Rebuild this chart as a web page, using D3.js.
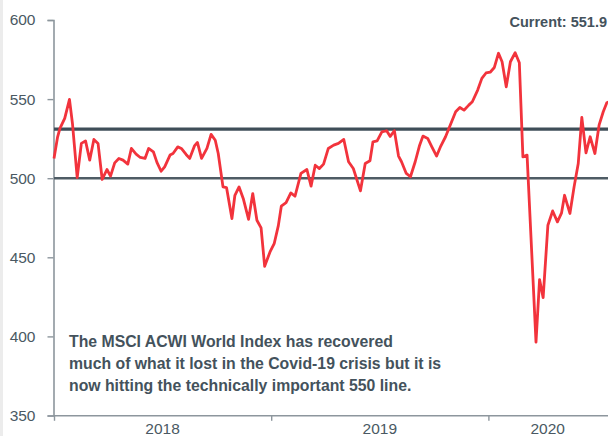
<!DOCTYPE html>
<html>
<head>
<meta charset="utf-8">
<script src="https://cdn.jsdelivr.net/npm/d3@7"></script>
<style>
  html, body { margin: 0; padding: 0; background: #fff; }
  svg { display: block; font-family: "Liberation Sans", Arial, Helvetica, sans-serif; }
</style>
</head>
<body>
<svg id="chart" width="608" height="436"></svg>
<script>
// ---- data ----
const dates = [
"2018-01-01","2018-01-07","2018-01-11","2018-01-19","2018-01-27","2018-02-01","2018-02-09","2018-02-16","2018-02-23","2018-03-02",
"2018-03-09","2018-03-16","2018-03-23","2018-03-31","2018-04-06","2018-04-13","2018-04-20","2018-04-27","2018-05-05","2018-05-11",
"2018-05-19","2018-05-26","2018-06-03","2018-06-09","2018-06-17","2018-06-23","2018-06-30","2018-07-06","2018-07-15","2018-07-20",
"2018-07-28","2018-08-03","2018-08-11","2018-08-17","2018-08-25","2018-08-30","2018-09-06","2018-09-15","2018-09-22","2018-09-29",
"2018-10-04","2018-10-12","2018-10-18","2018-10-27","2018-11-01","2018-11-08","2018-11-15","2018-11-24","2018-12-01","2018-12-08",
"2018-12-15","2018-12-21","2018-12-30","2019-01-06","2019-01-13","2019-01-18","2019-01-26","2019-02-03","2019-02-10","2019-02-20",
"2019-03-02","2019-03-09","2019-03-16","2019-03-23","2019-03-30","2019-04-07","2019-04-16","2019-04-24","2019-05-03","2019-05-11",
"2019-05-19","2019-05-31","2019-06-08","2019-06-16","2019-06-21","2019-06-28","2019-07-06","2019-07-14","2019-07-20","2019-07-27",
"2019-08-03","2019-08-08","2019-08-16","2019-08-23","2019-08-31","2019-09-07","2019-09-13","2019-09-21","2019-09-28","2019-10-06",
"2019-10-13","2019-10-21","2019-10-30","2019-11-07","2019-11-14","2019-11-21","2019-11-29","2019-12-05","2019-12-14","2019-12-21",
"2019-12-28","2020-01-04","2020-01-11","2020-01-18","2020-01-24","2020-01-31","2020-02-07","2020-02-15","2020-02-22","2020-02-28",
"2020-03-06","2020-03-21","2020-03-27","2020-04-02","2020-04-10","2020-04-18","2020-04-26","2020-05-03","2020-05-08","2020-05-17",
"2020-05-24","2020-05-31","2020-06-06","2020-06-13","2020-06-20","2020-06-28","2020-07-05","2020-07-12","2020-07-18","2020-07-23"
];
const values = [
512.5,526,531.5,537.8,549.8,534.6,500.4,522,523.6,511.4,
524.5,522,499.2,505.5,501.3,509.7,512.5,511.4,508.9,518.8,
515.2,513.1,512.5,518.8,516.7,510,504.4,507.2,514.6,515.6,
519.8,518.8,515,512.5,520.4,522.6,512.5,518.8,527.7,524,
515.6,494.5,494,474.5,489.2,494.5,487.2,474,490.3,473.4,
468.6,444.3,453.4,458.6,470,482.3,484.5,490.7,488.6,503,
505.5,495,508.2,506.1,508.9,518.8,520.9,522,524.5,510.4,
506.1,492,509.3,511,523,523.6,529.3,530,526.4,530,
514,510.4,503,500.9,510.4,520.3,526.6,525.1,519.8,514,
520.3,526.2,534.6,542,544.7,543,546.2,548.3,555.7,563.1,
566.5,567,570,579,573.6,557.8,573.6,579.3,573,513.5,
514.6,396.4,435.9,424.5,470.3,479.3,472.4,478.1,489.2,477.7,
494.5,509.3,538.4,516,526.2,515.6,533.5,542,547.7,548.5
];
const yTicks = [350, 400, 450, 500, 550, 600];
const yearTicks = ["2018-01-01", "2019-01-01", "2020-01-01"];
const yearLabels = ["2018", "2019", "2020"];
const levels = [531, 500];
const currentLabel = "Current: 551.9";
const noteLines = [
  "The MSCI ACWI World Index has recovered",
  "much of what it lost in the Covid-19 crisis but it is",
  "now hitting the technically important 550 line."
];

// ---- layout ----
const W = 608, H = 436;
const parse = d3.utcParse("%Y-%m-%d");
const xStart = parse("2018-01-01"), xEnd = parse("2020-07-20");
const x = d3.scaleUtc().domain([xStart, xEnd]).range([54, 608]);
const y = d3.scaleLinear().domain([350, 600]).range([415.5, 20]);

const svg = d3.select("#chart");
const textCol = "#4a5963";
const axisCol = "#8d969d";

// light strip at left edge
svg.append("rect").attr("x", 0).attr("y", 0).attr("width", 3).attr("height", H).attr("fill", "#ececec");

// y axis
const yAxis = svg.append("g")
  .attr("transform", "translate(53.5,0)")
  .call(d3.axisLeft(y).tickValues(yTicks).tickSize(6).tickPadding(12).tickFormat(d3.format("d")));
yAxis.select(".domain").attr("stroke", axisCol).attr("stroke-width", 1.6);
yAxis.selectAll(".tick line").attr("stroke", axisCol).attr("stroke-width", 1.4);
yAxis.selectAll(".tick text").attr("fill", textCol).style("font-size", "15.5px")
  .style("font-family", "'Liberation Sans', Arial, sans-serif");

// x axis
const yearDates = yearTicks.map(parse);
const xAxis = svg.append("g")
  .attr("transform", "translate(0,415.8)")
  .call(d3.axisBottom(x).tickValues(yearDates).tickSize(5).tickFormat(""));
xAxis.select(".domain").attr("stroke", axisCol).attr("stroke-width", 1.6)
  .attr("d", `M53,0H${W}`);
xAxis.selectAll(".tick line").attr("stroke", axisCol).attr("stroke-width", 1.4);

// year labels centred in visible part of each year
yearLabels.forEach((lab, i) => {
  const a = x(yearDates[i]);
  const b = i + 1 < yearDates.length ? x(yearDates[i + 1]) : W - 1;
  svg.append("text")
    .attr("x", (a + b) / 2).attr("y", 433.5)
    .attr("text-anchor", "middle")
    .attr("fill", textCol)
    .style("font-size", "15.5px")
    .text(lab);
});

// reference lines
levels.forEach((lv, i) => {
  svg.append("line")
    .attr("x1", 54).attr("x2", W)
    .attr("y1", y(lv)).attr("y2", y(lv))
    .attr("stroke", i === 0 ? "#3f4e58" : "#4f5c65")
    .attr("stroke-width", i === 0 ? 3.2 : 2.6);
});

// series line
const data = dates.map((d, i) => ({ date: parse(d), value: values[i] }));
svg.append("path")
  .datum(data)
  .attr("fill", "none")
  .attr("stroke", "#f2333c")
  .attr("stroke-width", 2.8)
  .attr("stroke-linejoin", "round")
  .attr("d", d3.line().x(d => x(d.date)).y(d => y(d.value)));

// current label
svg.append("text")
  .attr("x", 607).attr("y", 27)
  .attr("text-anchor", "end")
  .attr("fill", "#44525c")
  .style("font-size", "14.5px")
  .style("font-weight", "bold")
  .text(currentLabel);

// note
noteLines.forEach((t, i) => {
  svg.append("text")
    .attr("x", 69).attr("y", 347 + i * 21.8)
    .attr("fill", "#44525c")
    .style("font-size", "15.8px")
    .style("font-weight", "bold")
    .text(t);
});
</script>
</body>
</html>
